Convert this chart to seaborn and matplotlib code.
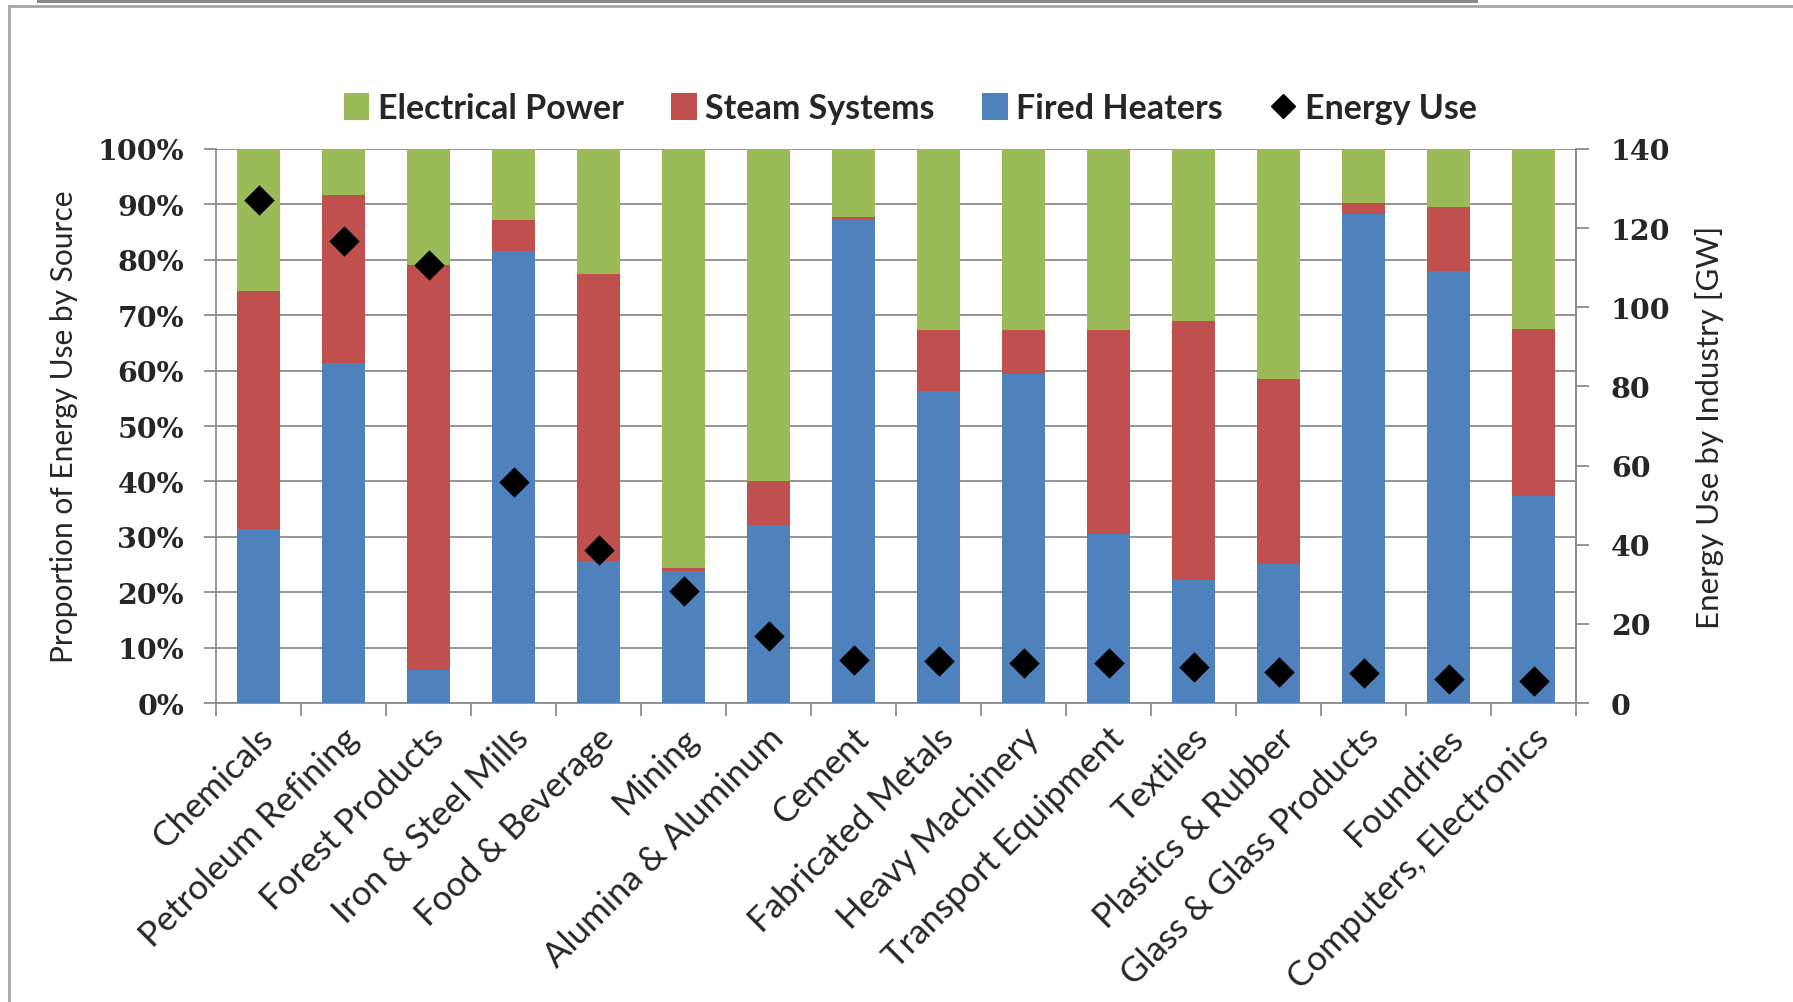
import numpy as np
import pandas as pd
import matplotlib
matplotlib.use("Agg")
import matplotlib.pyplot as plt
from matplotlib.patches import Patch, Rectangle
from matplotlib.lines import Line2D
from matplotlib.ticker import FuncFormatter, FixedLocator
from matplotlib.font_manager import FontProperties
import matplotlib.transforms as mtransforms
import seaborn as sns

# ---- data -------------------------------------------------------------
industries = [
    "Chemicals", "Petroleum Refining", "Forest Products", "Iron & Steel Mills",
    "Food & Beverage", "Mining", "Alumina & Aluminum", "Cement",
    "Fabricated Metals", "Heavy Machinery", "Transport Equipment", "Textiles",
    "Plastics & Rubber", "Glass & Glass Products", "Foundries",
    "Computers, Electronics",
]
# share of each industry's energy use by source [%]
fired_heaters = [31.4, 61.4, 6.0, 81.5, 25.7, 23.8, 32.1, 87.3,
                 56.4, 59.3, 30.6, 22.3, 25.1, 88.2, 78.0, 37.4]
steam_systems = [43.0, 30.3, 73.0, 5.6, 51.8, 0.6, 8.0, 0.5,
                 10.9, 8.0, 36.7, 46.7, 33.4, 2.1, 11.6, 30.1]
electrical_power = [25.6, 8.3, 21.0, 12.9, 22.5, 75.6, 59.9, 12.2,
                    32.7, 32.7, 32.7, 31.0, 41.5, 9.7, 10.4, 32.5]
# total energy use by industry [GW]
energy_use = [127.1, 116.7, 110.7, 55.9, 38.7, 28.2, 17.0, 11.0,
              10.6, 10.2, 10.2, 9.0, 7.8, 7.7, 6.2, 5.6]

series_names = ["Electrical Power", "Steam Systems", "Fired Heaters", "Energy Use"]
percent_ticks = list(range(0, 101, 10))
gw_ticks = list(range(0, 141, 20))

df = pd.DataFrame({
    "industry": industries,
    "fired": fired_heaters,
    "steam": steam_systems,
    "electric": electrical_power,
    "energy": energy_use,
})
# cumulative tops for the stacked bars
df["top_fired"] = df["fired"]
df["top_steam"] = df["fired"] + df["steam"]
df["top_electric"] = df["top_steam"] + df["electric"]

GREEN = "#9BBB59"
RED = "#C0504D"
BLUE = "#4F81BD"
GRID = "#8C8C8C"

sns.set_style("white")
plt.rcParams["font.family"] = ["Lato", "DejaVu Sans"]

fig = plt.figure(figsize=(17.93, 10.03), dpi=100)
ax = fig.add_axes([0.1205, 0.298, 0.879 - 0.1205, 0.8505 - 0.298])

# stacked bars: draw the cumulative totals from the top layer down
for col, colour in [("top_electric", GREEN), ("top_steam", RED), ("top_fired", BLUE)]:
    sns.barplot(data=df, x="industry", y=col, color=colour, width=0.51,
                saturation=1, errorbar=None, linewidth=0, ax=ax, zorder=3)

ax.set_xlim(-0.5, len(industries) - 0.5)
ax.set_ylim(0, 100)
ax.set_yticks(percent_ticks)
ax.yaxis.set_major_formatter(FuncFormatter(lambda v, p: f"{int(v)}%"))
ax.yaxis.grid(True, color=GRID, linewidth=1.3, zorder=0)
ax.set_axisbelow(True)
ax.xaxis.grid(False)
ax.set_xlabel("")
ax.set_ylabel("Proportion of Energy Use by Source", fontsize=21.5, labelpad=14)

tick_font = FontProperties(family="DejaVu Serif", weight="bold", size=20.5)
for lbl in ax.get_yticklabels():
    lbl.set_fontproperties(tick_font)
ax.tick_params(axis="y", which="major", length=9, width=1.3, color=GRID,
               direction="out", pad=14, left=True)

# category labels at bar centres, boundary ticks between bars
ax.set_xticks(range(len(industries)))
ax.set_xticklabels(industries, rotation=45, ha="right", rotation_mode="anchor",
                   fontsize=25)
ax.tick_params(axis="x", which="major", length=0, pad=13)
ax.xaxis.set_minor_locator(FixedLocator(np.arange(-0.5, len(industries), 1.0)))
ax.tick_params(axis="x", which="minor", length=9, width=1.3, color=GRID,
               direction="out", bottom=True)
shift = mtransforms.ScaledTranslation(-1 / 72, 0, fig.dpi_scale_trans)
for lbl in ax.get_xticklabels():
    lbl.set_transform(lbl.get_transform() + shift)

for side in ["left", "bottom", "right"]:
    ax.spines[side].set_color(GRID)
    ax.spines[side].set_linewidth(1.3)
ax.spines["top"].set_visible(False)

# secondary axis: total energy use
ax2 = ax.twinx()
sns.scatterplot(x=np.arange(len(industries)), y=df["energy"], marker="D",
                s=240, color="black", edgecolor="black", linewidth=0,
                ax=ax2, zorder=6, legend=False)
ax2.set_ylim(0, 140)
ax2.set_yticks(gw_ticks)
ax2.set_ylabel("Energy Use by Industry [GW]", fontsize=22.5, labelpad=18)
for lbl in ax2.get_yticklabels():
    lbl.set_fontproperties(tick_font)
ax2.tick_params(axis="y", length=9, width=1.3, color=GRID, direction="out",
                pad=16, right=True)
for side in ["left", "bottom", "top"]:
    ax2.spines[side].set_visible(False)
ax2.spines["right"].set_color(GRID)
ax2.spines["right"].set_linewidth(1.3)
ax2.grid(False)

# legend above the plot
handles = [
    Patch(facecolor=GREEN, edgecolor="none"),
    Patch(facecolor=RED, edgecolor="none"),
    Patch(facecolor=BLUE, edgecolor="none"),
    Line2D([], [], marker="D", linestyle="none", color="black", markersize=12),
]
fig.legend(handles, series_names, loc="center", bbox_to_anchor=(0.5076, 0.891),
           ncol=4, frameon=False, handlelength=0.75, handleheight=0.8,
           handletextpad=0.25, columnspacing=1.4,
           prop=dict(family="Lato", weight="bold", size=24.5))

# chart-area frame and header bar
W, H = 1793, 1003
fig.add_artist(Rectangle((37 / W, 1 - 4 / H), (1478 - 37) / W, 4 / H,
                         transform=fig.transFigure, facecolor="#8A8A8A",
                         edgecolor="none"))
fig.add_artist(Line2D([9 / W, 1], [1 - 7 / H, 1 - 7 / H], transform=fig.transFigure,
                      color="#A6A6A6", linewidth=2))
fig.add_artist(Line2D([9 / W, 9 / W], [0, 1 - 7 / H], transform=fig.transFigure,
                      color="#A6A6A6", linewidth=2))

fig.savefig("out.png", dpi=100)
